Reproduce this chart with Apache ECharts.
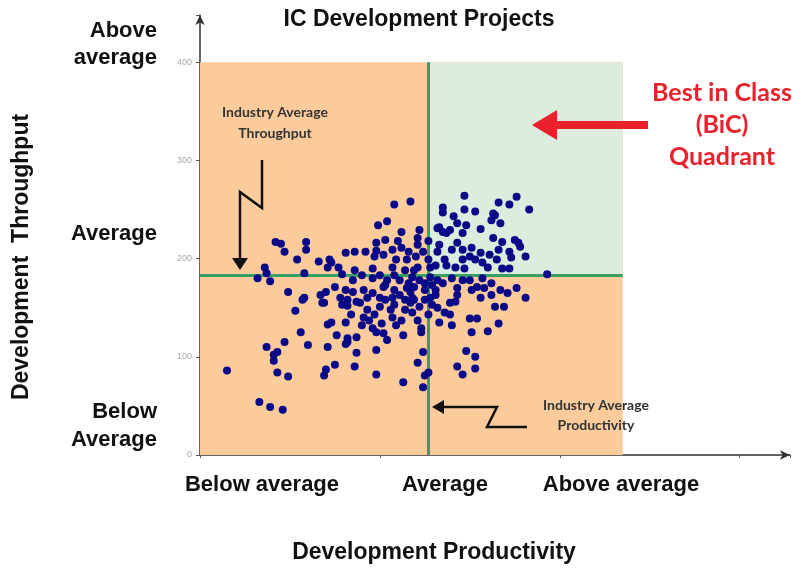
<!DOCTYPE html>
<html>
<head>
<meta charset="utf-8">
<script src="https://cdn.jsdelivr.net/npm/echarts@6/dist/echarts.min.js"></script>
<style>
html,body{margin:0;padding:0;background:#fff;}
#main{width:801px;height:571px;}
</style>
</head>
<body>
<div id="main"></div>
<script>
// 项目散点 [生产率, 吞吐量]
var projects = [
	[15,86],[33,54],[39,49],[46,46],[37,110],[47,115],[41,102],[43,105],[41,96],[43,84],
	[49,80],[56,125],[60,112],[57,158],[53,147],[68,155],[71,133],[71,110],[70,87],[69,81],
	[75,92],[86,90],[98,82],[87,104],[98,107],[82,115],[113,74],[121,94],[124,69],[127,84],
	[124,105],[125,81],
	[42,217],[45,215],[47,207],[59,217],[59,209],[54,199],[66,197],[36,191],[37,185],[32,180],
	[39,177],[58,185],[49,166],[58,160],[67,163],[71,191],[72,199],[70,166],[75,171],[78,160],
	[82,158],[79,153],[73,135],[69,155],
	[108,255],[117,258],[99,234],[104,238],[112,227],[122,229],[121,221],[127,218],[103,219],[98,216],
	[110,218],[98,208],[107,209],[112,211],[116,207],[121,214],[81,206],[86,207],[92,207],[97,202],
	[102,204],[109,199],[115,199],[120,202],[124,207],[127,199],[73,196],[77,191],[86,188],[96,190],
	[107,191],[114,188],[121,191],[128,191],[79,184],[90,183],[96,180],[85,178],[100,183],[104,178],
	[111,178],[118,181],[122,178],[128,181],[81,168],[91,168],[96,165],[102,171],[108,168],[115,170],
	[119,171],[125,168],[93,160],[100,160],[111,163],[118,160],[128,160],[85,166],[87,156],
	[82,152],[89,155],[91,140],[93,148],[94,137],[90,132],[96,129],[100,151],[101,134],[98,125],
	[102,124],[108,153],[107,140],[112,137],[114,148],[117,155],[109,132],[122,151],[121,137],[123,129],
	[113,122],[76,122],[82,119],[81,113],[87,120],[132,150],[133,135],[136,145],[106,148],[103,158],
	[117,166],[97,143],[118,145],[125,158],[104,117],
	[135,252],[135,247],[132,231],[135,227],[132,207],[136,199],[137,193],[147,264],[176,263],[166,257],
	[172,255],[183,250],[147,250],[153,248],[163,246],[162,239],[141,243],[143,236],[148,234],[167,236],
	[156,230],[146,226],[139,229],[163,221],[168,217],[175,219],[178,212],[143,216],[140,209],[146,209],
	[151,211],[156,206],[161,204],[166,209],[172,207],[150,202],[146,199],[153,199],[157,196],[165,199],
	[173,201],[181,202],[142,191],[147,190],[160,191],[168,190],[172,190],[193,184],[133,232],[137,226],
	[164,244],[177,216],[131,193],[133,214],
	[140,180],[146,178],[150,178],[157,180],[162,175],[154,171],[158,170],[143,170],[151,168],[167,168],
	[176,170],[171,165],[162,163],[156,160],[143,163],[181,160],[164,151],[169,151],[139,155],[139,143],
	[140,132],[150,139],[154,139],[151,125],[160,126],[166,134],[148,106],[153,100],[143,90],[146,82],
	[153,88],[142,156],[135,175],[131,168],[132,178],
	[125,175],[129,173],[119,188],[116,175],[108,183],[103,173],[131,163],[129,153],[127,143],[119,158],
	[114,158],[107,160],[84,143],[81,135],[123,125]
];
var yTicks = [0, 100, 200, 300, 400];
var avgProductivity = 127;   // 行业平均生产率
var avgThroughput = 183;     // 行业平均吞吐量
var chartRight = 235;        // 象限右边界
var chartTop = 400;          // 象限上边界
var xLabels = ['Below average', 'Average', 'Above average'];
var yLabels = ['Above\naverage', 'Average', 'Below\nAverage'];
var bicLines = ['Best in Class', '(BiC)', 'Quadrant'];

var dom = document.getElementById('main');
var myChart = echarts.init(dom);
var option = null;
var big = 'bold 22px "Liberation Sans", Arial, sans-serif';
var head = 'bold 23px "Liberation Sans", Arial, sans-serif';
var note = 'bold 14px Lato, "Liberation Sans", sans-serif';
option = {
	backgroundColor: '#fff',
	animation: false,
	grid: {
		left: 200,
		right: 11,
		top: 15,
		bottom: 116
	},
	xAxis: {
		type: 'value',
		min: 0,
		max: 328,
		interval: 100,
		axisLine: {
			lineStyle: { color: '#333', width: 1.5 },
			symbol: ['none', 'arrow'],
			symbolSize: [7, 10]
		},
		axisTick: { show: true, length: 3, lineStyle: { color: '#555' } },
		axisLabel: { show: false },
		splitLine: { show: false }
	},
	yAxis: {
		type: 'value',
		min: 0,
		max: 448,
		interval: 100,
		axisLine: {
			lineStyle: { color: '#333', width: 1.5 },
			symbol: ['none', 'arrow'],
			symbolSize: [7, 10]
		},
		axisTick: { show: true, length: 4, lineStyle: { color: '#555' } },
		axisLabel: {
			color: '#a8a8a8',
			fontSize: 9,
			margin: 8,
			formatter: function (v) {
				return yTicks.indexOf(v) >= 0 ? String(v) : '';
			}
		},
		splitLine: { show: false }
	},
	series: [{
		// 象限背景
		type: 'scatter',
		data: [],
		z: 1,
		silent: true,
		markArea: {
			silent: true,
			label: { show: false },
			data: [
				[{ coord: [0, 0], itemStyle: { color: '#fccb9b' } }, { coord: [chartRight, chartTop] }],
				[{ coord: [avgProductivity, avgThroughput], itemStyle: { color: '#dcedde' } }, { coord: [chartRight, chartTop] }]
			]
		},
		markLine: {
			silent: true,
			symbol: ['none', 'none'],
			label: { show: false },
			lineStyle: { color: '#37a062', width: 3, type: 'solid' },
			data: [
				[{ coord: [avgProductivity, 0] }, { coord: [avgProductivity, chartTop] }],
				[{ coord: [0, avgThroughput] }, { coord: [chartRight, avgThroughput] }]
			]
		}
	}, {
		name: 'IC Projects',
		type: 'scatter',
		z: 5,
		data: projects,
		symbolSize: 8,
		itemStyle: { color: '#0a0a88', opacity: 1 }
	}],
	graphic: [
		{ type: 'text', x: 419, y: 20, style: { text: 'IC Development Projects', font: head, fill: '#111', align: 'center', verticalAlign: 'middle' } },
		{ type: 'text', x: 22, y: 257, rotation: Math.PI / 2, style: { text: 'Development  Throughput', font: head, fill: '#111', align: 'center', verticalAlign: 'middle' } },
		{ type: 'text', x: 434, y: 553, style: { text: 'Development Productivity', font: head, fill: '#111', align: 'center', verticalAlign: 'middle' } },
		{ type: 'text', x: 157, y: 44, style: { text: yLabels[0], font: big, lineHeight: 27, fill: '#111', align: 'right', verticalAlign: 'middle' } },
		{ type: 'text', x: 157, y: 234, style: { text: yLabels[1], font: big, fill: '#111', align: 'right', verticalAlign: 'middle' } },
		{ type: 'text', x: 157, y: 426, style: { text: yLabels[2], font: big, lineHeight: 28, fill: '#111', align: 'right', verticalAlign: 'middle' } },
		{ type: 'text', x: 262, y: 485, style: { text: xLabels[0], font: big, fill: '#111', align: 'center', verticalAlign: 'middle' } },
		{ type: 'text', x: 445, y: 485, style: { text: xLabels[1], font: big, fill: '#111', align: 'center', verticalAlign: 'middle' } },
		{ type: 'text', x: 621, y: 485, style: { text: xLabels[2], font: big, fill: '#111', align: 'center', verticalAlign: 'middle' } },
		{ type: 'text', x: 722, y: 125, style: { text: bicLines.join('\n'), font: 'bold 25px Lato, "Liberation Sans", sans-serif', lineHeight: 32, fill: '#e8212b', align: 'center', verticalAlign: 'middle' } },
		{ type: 'polyline', z: 10, shape: { points: [[648, 125], [552, 125]] }, style: { stroke: '#e8212b', lineWidth: 8 } },
		{ type: 'polygon', z: 10, shape: { points: [[532, 125], [557, 110], [557, 140]] }, style: { fill: '#e8212b' } },
		{ type: 'text', x: 275, y: 123, z: 10, style: { text: 'Industry Average\nThroughput', font: note, lineHeight: 21, fill: '#333', align: 'center', verticalAlign: 'middle' } },
		{ type: 'polyline', z: 10, shape: { points: [[262, 160], [262, 208], [240, 192], [240, 260]] }, style: { stroke: '#111', lineWidth: 2.5, fill: null } },
		{ type: 'polygon', z: 10, shape: { points: [[232, 258], [248, 258], [240, 270]] }, style: { fill: '#111' } },
		{ type: 'text', x: 596, y: 415, z: 10, style: { text: 'Industry Average\nProductivity', font: note, lineHeight: 20, fill: '#333', align: 'center', verticalAlign: 'middle' } },
		{ type: 'polyline', z: 10, shape: { points: [[440, 407], [497, 407], [487, 427], [527, 427]] }, style: { stroke: '#111', lineWidth: 2.5, fill: null } },
		{ type: 'polygon', z: 10, shape: { points: [[432, 407], [444, 400], [444, 414]] }, style: { fill: '#111' } }
	]
};
if (option && typeof option === "object") {
	myChart.setOption(option, true);
}
</script>
</body>
</html>
